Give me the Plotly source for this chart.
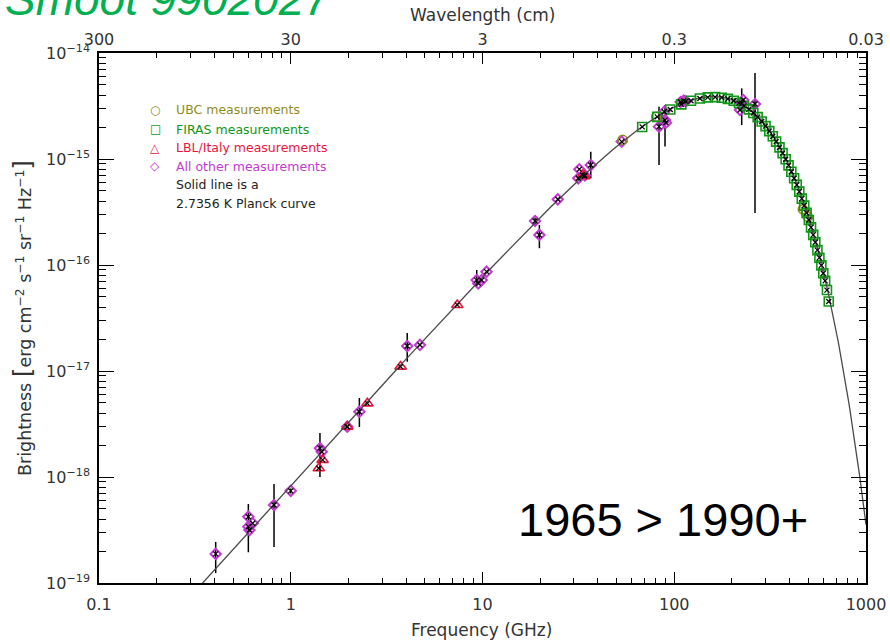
import numpy as np
import plotly.graph_objects as go

# ---------------- data ----------------
# FIRAS monopole spectrum: frequency (GHz) and brightness (erg cm^-2 s^-1 sr^-1 Hz^-1)
firas_freq = [68.05, 81.54, 95.33, 108.8, 122.3, 136.1, 149.6, 163.4, 176.9, 190.4,
              204.2, 217.6, 231.1, 244.9, 258.4, 272.2, 285.7, 299.2, 313.0, 326.5,
              340.0, 353.8, 367.2, 381.0, 394.5, 408.0, 421.8, 435.3, 448.8, 462.6,
              476.1, 489.9, 503.4, 516.8, 530.6, 544.1, 557.9, 571.4, 584.9, 598.7,
              612.2, 625.7, 639.5]
firas_bright = [2.007e-15, 2.495e-15, 2.930e-15, 3.278e-15, 3.541e-15, 3.721e-15,
                3.815e-15, 3.835e-15, 3.789e-15, 3.688e-15, 3.541e-15, 3.363e-15,
                3.161e-15, 2.939e-15, 2.714e-15, 2.482e-15, 2.259e-15, 2.043e-15,
                1.833e-15, 1.638e-15, 1.458e-15, 1.288e-15, 1.136e-15, 9.945e-16,
                8.704e-16, 7.588e-16, 6.577e-16, 5.701e-16, 4.922e-16, 4.227e-16,
                3.635e-16, 3.106e-16, 2.658e-16, 2.264e-16, 1.926e-16, 1.639e-16,
                1.381e-16, 1.172e-16, 9.921e-17, 8.364e-17, 7.087e-17, 5.801e-17,
                4.523e-17]

# UBC rocket measurements
ubc_freq = [53.8, 80.5, 468.0, 486.0, 497.0]
ubc_bright = [1.52e-15, 2.50e-15, 3.35e-16, 3.15e-16, 2.85e-16]

# LBL / Italy measurements
lbl_freq = [1.40, 1.466, 1.97, 2.51, 3.74, 7.39, 33.2, 34.0]
lbl_bright = [1.21e-18, 1.45e-18, 2.98e-18, 4.95e-18, 1.10e-17, 4.20e-17, 7.06e-16, 6.90e-16]

# All other measurements, with upper / lower error extents (0 = no visible bar)
other_freq = [0.406, 0.601, 0.601, 0.633, 0.609, 0.818, 1.00, 1.42, 1.45,
              1.97, 2.28, 4.05, 4.72, 9.33, 9.50, 9.90, 10.5, 18.8, 19.8,
              24.7, 31.6, 32.0, 34.2, 36.7, 53.2, 83.3, 88.7, 89.5, 90.5,
              108.0, 112.0, 115.0, 220.3, 224.8, 229.0, 263.7]
other_bright = [1.88e-19, 4.22e-19, 3.40e-19, 3.66e-19, 3.16e-19, 5.44e-19, 7.40e-19,
                1.87e-18, 1.73e-18, 2.98e-18, 4.13e-18, 1.72e-17, 1.76e-17, 7.20e-17,
                6.70e-17, 7.20e-17, 8.65e-17, 2.60e-16, 1.92e-16, 4.17e-16, 6.58e-16,
                8.00e-16, 7.00e-16, 8.77e-16, 1.46e-15, 2.02e-15, 2.79e-15, 2.33e-15,
                2.20e-15, 3.45e-15, 3.55e-15, 3.50e-15, 2.90e-15, 3.35e-15, 3.60e-15,
                3.30e-15]
other_err_up = [0.56e-19, 0, 2.16e-19, 0, 0, 3.15e-19, 0.4e-19,
                0.73e-18, 0, 0, 1.43e-18, 0.56e-17, 0, 1.77e-17,
                0, 0, 0, 0.2e-16, 0.46e-16, 0, 0.3e-16,
                0, 0.25e-16, 2.93e-16, 0, 1.09e-15, 0, 0.90e-15,
                0, 0, 0, 0, 0, 1.29e-15, 0,
                3.17e-15]
other_err_dn = [0.64e-19, 0, 1.45e-19, 0, 0, 3.25e-19, 0.4e-19,
                0.87e-18, 0, 0, 1.17e-18, 0.50e-17, 0, 0.96e-17,
                0, 0, 0, 0.2e-16, 0.48e-16, 0, 0.3e-16,
                0, 0.25e-16, 2.19e-16, 0, 1.14e-15, 0, 1.02e-15,
                0, 0, 0, 0, 0, 1.26e-15, 0,
                2.99e-15]

T_CMB = 2.7356  # K, temperature of the Planck curve

x_ticks = [0.1, 1, 10, 100, 1000]
x_tick_text = ["0.1", "1", "10", "100", "1000"]
wavelength_text = ["300", "30", "3", "0.3", "0.03"]
y_ticks = [1e-19, 1e-18, 1e-17, 1e-16, 1e-15, 1e-14]
y_tick_text = ["10<sup>−19</sup>", "10<sup>−18</sup>", "10<sup>−17</sup>",
               "10<sup>−16</sup>", "10<sup>−15</sup>", "10<sup>−14</sup>"]

# ---------------- colours / fonts ----------------
C_UBC = "#8e8c1c"
C_FIRAS = "#12961a"
C_LBL = "#e8143c"
C_OTHER = "#c43ad0"
C_TEXT = "#333333"
FONT = "DejaVu Sans"

# ---------------- Planck curve ----------------
h = 6.62607e-27
k_B = 1.380649e-16
c = 2.99792458e10
nu_ghz = np.logspace(-1, 3, 800)
nu = nu_ghz * 1e9
planck = 2 * h * nu**3 / c**2 / np.expm1(h * nu / (k_B * T_CMB))

fig = go.Figure()

err_style = dict(type="data", symmetric=False, color="black", thickness=1.5, width=0)

fig.add_trace(go.Scatter(
    x=other_freq, y=other_bright, mode="markers",
    error_y=dict(array=other_err_up, arrayminus=other_err_dn, **err_style),
    marker=dict(symbol="diamond-open", size=8, color=C_OTHER, line=dict(width=2)),
    hoverinfo="skip"))
fig.add_trace(go.Scatter(
    x=ubc_freq, y=ubc_bright, mode="markers",
    marker=dict(symbol="circle-open", size=9, color=C_UBC, line=dict(width=1.6)),
    hoverinfo="skip"))
fig.add_trace(go.Scatter(
    x=lbl_freq, y=lbl_bright, mode="markers",
    marker=dict(symbol="triangle-up-open", size=10, color=C_LBL, line=dict(width=1.6)),
    hoverinfo="skip"))
fig.add_trace(go.Scatter(
    x=firas_freq, y=firas_bright, mode="markers",
    marker=dict(symbol="square-open", size=9, color=C_FIRAS, line=dict(width=1.6)),
    hoverinfo="skip"))

# Planck curve on top of the points
fig.add_trace(go.Scatter(
    x=nu_ghz, y=planck, mode="lines",
    line=dict(color="#4a4a4a", width=1.3), hoverinfo="skip"))

# black crosses marking every measurement
fig.add_trace(go.Scatter(
    x=other_freq + lbl_freq + firas_freq,
    y=other_bright + lbl_bright + firas_bright, mode="markers",
    marker=dict(symbol="x-thin-open", size=5, color="black", line=dict(width=1.2, color="black")),
    hoverinfo="skip"))

# carrier for the wavelength / right-hand axes
fig.add_trace(go.Scatter(
    x=[firas_freq[0]], y=[firas_bright[0]], xaxis="x2", yaxis="y2",
    mode="markers", marker=dict(opacity=0), hoverinfo="skip"))


def minor_vals(lo, hi):
    vals = []
    for e in range(lo, hi):
        for m in range(2, 10):
            vals.append(m * 10.0**e)
    return vals


x_minor = minor_vals(-1, 3)
y_minor = minor_vals(-19, -14)

tickfont = dict(family=FONT, size=16, color=C_TEXT)
common_x = dict(type="log", range=[-1, 3], showgrid=False, zeroline=False, automargin=False,
                showline=True, linecolor="black", linewidth=1.5,
                ticks="inside", ticklen=11, tickwidth=1.3, tickcolor="black",
                tickvals=x_ticks, tickfont=tickfont,
                minor=dict(ticks="inside", ticklen=5.5, tickwidth=1.2, tickcolor="black",
                           tickvals=x_minor, showgrid=False))
common_y = dict(type="log", range=[-19, -14], showgrid=False, zeroline=False, automargin=False,
                showline=True, linecolor="black", linewidth=1.5,
                ticks="inside", ticklen=15, tickwidth=1.3, tickcolor="black",
                tickvals=y_ticks, tickfont=tickfont,
                minor=dict(ticks="inside", ticklen=7.7, tickwidth=1.2, tickcolor="black",
                           tickvals=y_minor, showgrid=False))

W, H = 890, 644
L, R, T, B = 99, 24, 53, 61
PW, PH = W - L - R, H - T - B


def px(xp):
    return (xp - L) / PW


def py(yp):
    return 1 - (yp - T) / PH


fig.update_layout(
    width=W, height=H,
    margin=dict(l=L, r=R, t=T, b=B, autoexpand=False),
    paper_bgcolor="white", plot_bgcolor="white",
    showlegend=False,
    xaxis=dict(**common_x, ticktext=x_tick_text, side="bottom", ticklabelstandoff=6),
    xaxis2=dict(**common_x, ticktext=wavelength_text, side="top", overlaying="x",
                ticklabelstandoff=0),
    yaxis=dict(**common_y, ticktext=y_tick_text, side="left", ticklabelstandoff=4),
    yaxis2=dict(**common_y, side="right", overlaying="y", showticklabels=False),
)


def note(text, x, y, size, color, family=FONT, xanchor="center", angle=0):
    return dict(text=text, x=px(x), y=py(y), xref="paper", yref="paper",
                showarrow=False, xanchor=xanchor, yanchor="middle", textangle=angle,
                font=dict(family=family, size=size, color=color))


ann = []
# axis titles
ann.append(note("Frequency (GHz)", 481, 630, 17, C_TEXT))
ann.append(note("Wavelength (cm)", 482, 15, 17, C_TEXT))
ann.append(note("Brightness <span style='font-size:25px'>[</span>erg cm<sup>−2</sup> s<sup>−1</sup>"
                " sr<sup>−1</sup> Hz<sup>−1</sup><span style='font-size:25px'>]</span>",
                22, 318, 17.5, C_TEXT, angle=-90))

# key
key_rows = [("○", "UBC measurements", C_UBC),
            ("□", "FIRAS measurements", C_FIRAS),
            ("△", "LBL/Italy measurements", C_LBL),
            ("◇", "All other measurements", C_OTHER),
            ("", "Solid line is a", "#222222"),
            ("", "2.7356 K Planck curve", "#222222")]
row_y = [110, 129.3, 147.7, 166, 185, 203.3]
for (sym, label, col), yy in zip(key_rows, row_y):
    if sym:
        ann.append(note(sym, 155, yy, 12, col))
    ann.append(note(label, 174, yy, 12.5, col, xanchor="left"))

# large captions
ann.append(note("<i>Smoot 9902027</i>", 3, -1, 46, "#00b050",
                family="Liberation Sans", xanchor="left"))
ann.append(note("1965 > 1990+", 516, 519, 47, "black",
                family="Liberation Sans", xanchor="left"))

fig.update_layout(annotations=ann)

fig.write_html("out.html")
